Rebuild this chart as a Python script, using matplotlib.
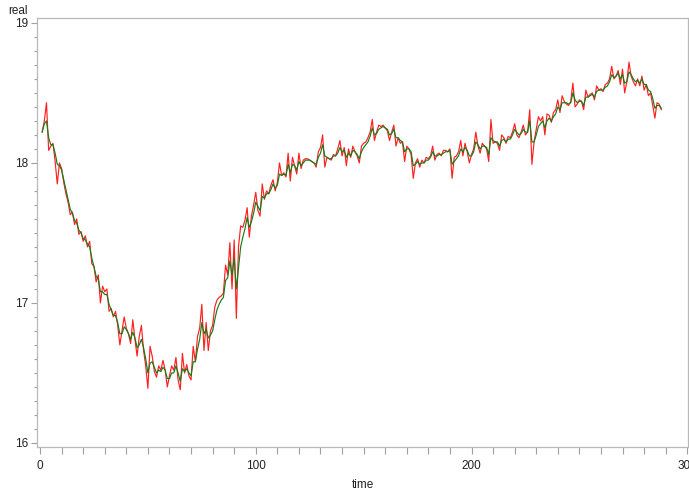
import matplotlib
matplotlib.use("Agg")
import matplotlib.pyplot as plt
from matplotlib.ticker import MultipleLocator

plt.rcParams['font.family'] = ['Liberation Sans', 'DejaVu Sans']

# observed series (red)
real = [
    18.22, 18.30, 18.43, 18.09, 18.12, 18.14, 18.01, 17.85, 18.00, 17.96,
    17.86, 17.78, 17.72, 17.63, 17.65, 17.56, 17.60, 17.49, 17.51, 17.44,
    17.48, 17.40, 17.44, 17.28, 17.26, 17.15, 17.20, 17.00, 17.12, 17.08,
    17.10, 16.94, 16.96, 16.90, 16.94, 16.84, 16.70, 16.80, 16.90, 16.82,
    16.78, 16.71, 16.88, 16.74, 16.62, 16.76, 16.84, 16.66, 16.55, 16.39,
    16.69, 16.62, 16.51, 16.47, 16.55, 16.52, 16.59, 16.52, 16.40, 16.48,
    16.55, 16.52, 16.61, 16.45, 16.38, 16.64, 16.50, 16.56, 16.48, 16.45,
    16.69, 16.58, 16.76, 16.82, 16.99, 16.66, 16.86, 16.66, 16.80, 16.84,
    16.97, 17.02, 17.04, 17.05, 17.07, 17.27, 17.20, 17.43, 17.10, 17.45,
    16.89, 17.40, 17.55, 17.54, 17.59, 17.68, 17.47, 17.62, 17.70, 17.79,
    17.66, 17.62, 17.85, 17.74, 17.80, 17.78, 17.84, 17.88, 17.80, 17.86,
    18.00, 17.91, 17.93, 17.90, 18.07, 17.87, 18.04, 17.98, 17.92, 18.07,
    17.96, 18.02, 18.03, 18.03, 18.02, 18.01, 18.00, 17.97, 18.08, 18.11,
    18.20, 17.97, 18.04, 18.03, 18.02, 18.06, 18.05, 18.10, 18.16, 18.05,
    18.11, 17.98, 18.10, 18.04, 18.12, 18.08, 18.05, 18.00, 18.12, 18.14,
    18.15, 18.18, 18.22, 18.31, 18.16, 18.22, 18.27, 18.26, 18.27, 18.25,
    18.23, 18.16, 18.22, 18.27, 18.12, 18.18, 18.14, 18.15, 18.01, 18.12,
    18.10, 18.06, 17.89, 18.00, 18.03, 17.97, 18.02, 18.00, 18.04, 18.03,
    18.05, 18.12, 18.02, 18.06, 18.07, 18.05, 18.09, 18.09, 18.08, 18.10,
    17.89, 18.04, 18.05, 18.08, 18.16, 18.05, 18.14, 18.08, 18.00, 18.06,
    18.10, 18.22, 18.12, 18.07, 18.14, 18.12, 18.10, 18.01, 18.31, 18.14,
    18.15, 18.14, 18.09, 18.20, 18.18, 18.14, 18.19, 18.18, 18.22, 18.28,
    18.20, 18.18, 18.22, 18.27, 18.20, 18.22, 18.38, 17.99, 18.15, 18.24,
    18.33, 18.30, 18.33, 18.20, 18.35, 18.34, 18.29, 18.36, 18.38, 18.45,
    18.36, 18.48, 18.44, 18.42, 18.41, 18.44, 18.57, 18.40, 18.42, 18.45,
    18.44, 18.38, 18.52, 18.47, 18.49, 18.50, 18.45, 18.55, 18.52, 18.53,
    18.51, 18.56, 18.57, 18.60, 18.69, 18.60, 18.62, 18.66, 18.56, 18.67,
    18.50, 18.58, 18.72, 18.62, 18.58, 18.55, 18.60, 18.55, 18.62, 18.52,
    18.56, 18.48, 18.50, 18.41, 18.32, 18.43, 18.42, 18.38,
]

# smoothed series (green)
smooth = [
    18.22, 18.28, 18.30, 18.18, 18.13, 18.13, 18.07, 17.99, 17.98, 17.95,
    17.88, 17.81, 17.74, 17.67, 17.64, 17.59, 17.57, 17.52, 17.50, 17.46,
    17.45, 17.42, 17.40, 17.32, 17.26, 17.19, 17.17, 17.08, 17.08, 17.06,
    17.06, 16.99, 16.95, 16.91, 16.91, 16.86, 16.78, 16.78, 16.83, 16.81,
    16.78, 16.74, 16.79, 16.75, 16.68, 16.70, 16.74, 16.68, 16.60, 16.50,
    16.57, 16.58, 16.54, 16.50, 16.52, 16.51, 16.54, 16.52, 16.46, 16.46,
    16.50, 16.50, 16.55, 16.50, 16.44, 16.53, 16.51, 16.53, 16.50, 16.48,
    16.58, 16.58, 16.67, 16.74, 16.86, 16.78, 16.81, 16.75, 16.77, 16.80,
    16.88, 16.95, 16.99, 17.02, 17.04, 17.16, 17.18, 17.30, 17.20, 17.32,
    17.10, 17.25, 17.40, 17.47, 17.53, 17.61, 17.54, 17.58, 17.64, 17.72,
    17.69, 17.66, 17.76, 17.75, 17.78, 17.78, 17.81, 17.85, 17.82, 17.84,
    17.92, 17.91, 17.92, 17.91, 17.99, 17.93, 17.99, 17.98, 17.95, 18.01,
    17.98, 18.00, 18.02, 18.02, 18.02, 18.01, 18.00, 17.99, 18.04, 18.07,
    18.13, 18.05, 18.04, 18.03, 18.03, 18.05, 18.05, 18.07, 18.11, 18.08,
    18.09, 18.04, 18.07, 18.05, 18.09, 18.08, 18.06, 18.03, 18.08, 18.11,
    18.13, 18.15, 18.19, 18.25, 18.20, 18.21, 18.24, 18.25, 18.26, 18.25,
    18.24, 18.20, 18.21, 18.24, 18.18, 18.18, 18.16, 18.15, 18.08, 18.10,
    18.10, 18.08, 17.98, 17.99, 18.01, 17.99, 18.00, 18.00, 18.02, 18.02,
    18.04, 18.08, 18.05, 18.05, 18.06, 18.06, 18.07, 18.08, 18.08, 18.09,
    17.99, 18.01, 18.03, 18.05, 18.10, 18.08, 18.11, 18.09, 18.05, 18.05,
    18.08, 18.15, 18.13, 18.10, 18.12, 18.12, 18.11, 18.06, 18.18, 18.16,
    18.15, 18.15, 18.12, 18.16, 18.17, 18.15, 18.17, 18.17, 18.20, 18.24,
    18.22, 18.20, 18.21, 18.24, 18.22, 18.22, 18.30, 18.15, 18.15, 18.20,
    18.26, 18.28, 18.30, 18.25, 18.30, 18.32, 18.30, 18.33, 18.35, 18.40,
    18.38, 18.43, 18.43, 18.43, 18.42, 18.43, 18.50, 18.45, 18.43, 18.44,
    18.44, 18.41, 18.47, 18.47, 18.48, 18.49, 18.47, 18.51, 18.52, 18.52,
    18.52, 18.54, 18.55, 18.58, 18.63, 18.61, 18.62, 18.64, 18.60, 18.63,
    18.57, 18.58, 18.65, 18.63, 18.60, 18.58, 18.59, 18.57, 18.60, 18.56,
    18.56, 18.52, 18.51, 18.46, 18.39, 18.41, 18.41, 18.39,
]

time = list(range(1, len(real) + 1))

fig = plt.figure(figsize=(6.89, 4.91), dpi=100)
ax = fig.add_axes([0.0537, 0.0896, 0.945, 0.874])

ax.plot(time, real, color='#ff2020', linewidth=0.85)
ax.plot(time, smooth, color='#1a7a1a', linewidth=0.85)

ax.set_xlim(-1.4, 300.4)
ax.set_ylim(15.971, 19.036)

ax.xaxis.set_major_locator(MultipleLocator(100))
ax.xaxis.set_minor_locator(MultipleLocator(10))
ax.yaxis.set_major_locator(MultipleLocator(1))
ax.yaxis.set_minor_locator(MultipleLocator(0.1))

for side in ['left', 'bottom', 'top', 'right']:
    ax.spines[side].set_color('#b8b8b8')
    ax.spines[side].set_linewidth(0.9)

ax.tick_params(axis='both', which='both', direction='out', color='#a0a0a0',
               labelsize=8.5, labelcolor='#222222', width=0.8)
ax.tick_params(axis='x', which='major', length=5, pad=4)
ax.tick_params(axis='x', which='minor', length=5)
ax.tick_params(axis='y', which='major', length=4, pad=2)
ax.tick_params(axis='y', which='minor', length=2.5)

fig.text(0.026, 0.977, "real", fontsize=8.5, color='#222222',
         ha='center', va='center')
fig.text(0.527, 0.0122, "time", fontsize=8.5, color='#222222',
         ha='center', va='center')

fig.savefig("out.png", dpi=100)
